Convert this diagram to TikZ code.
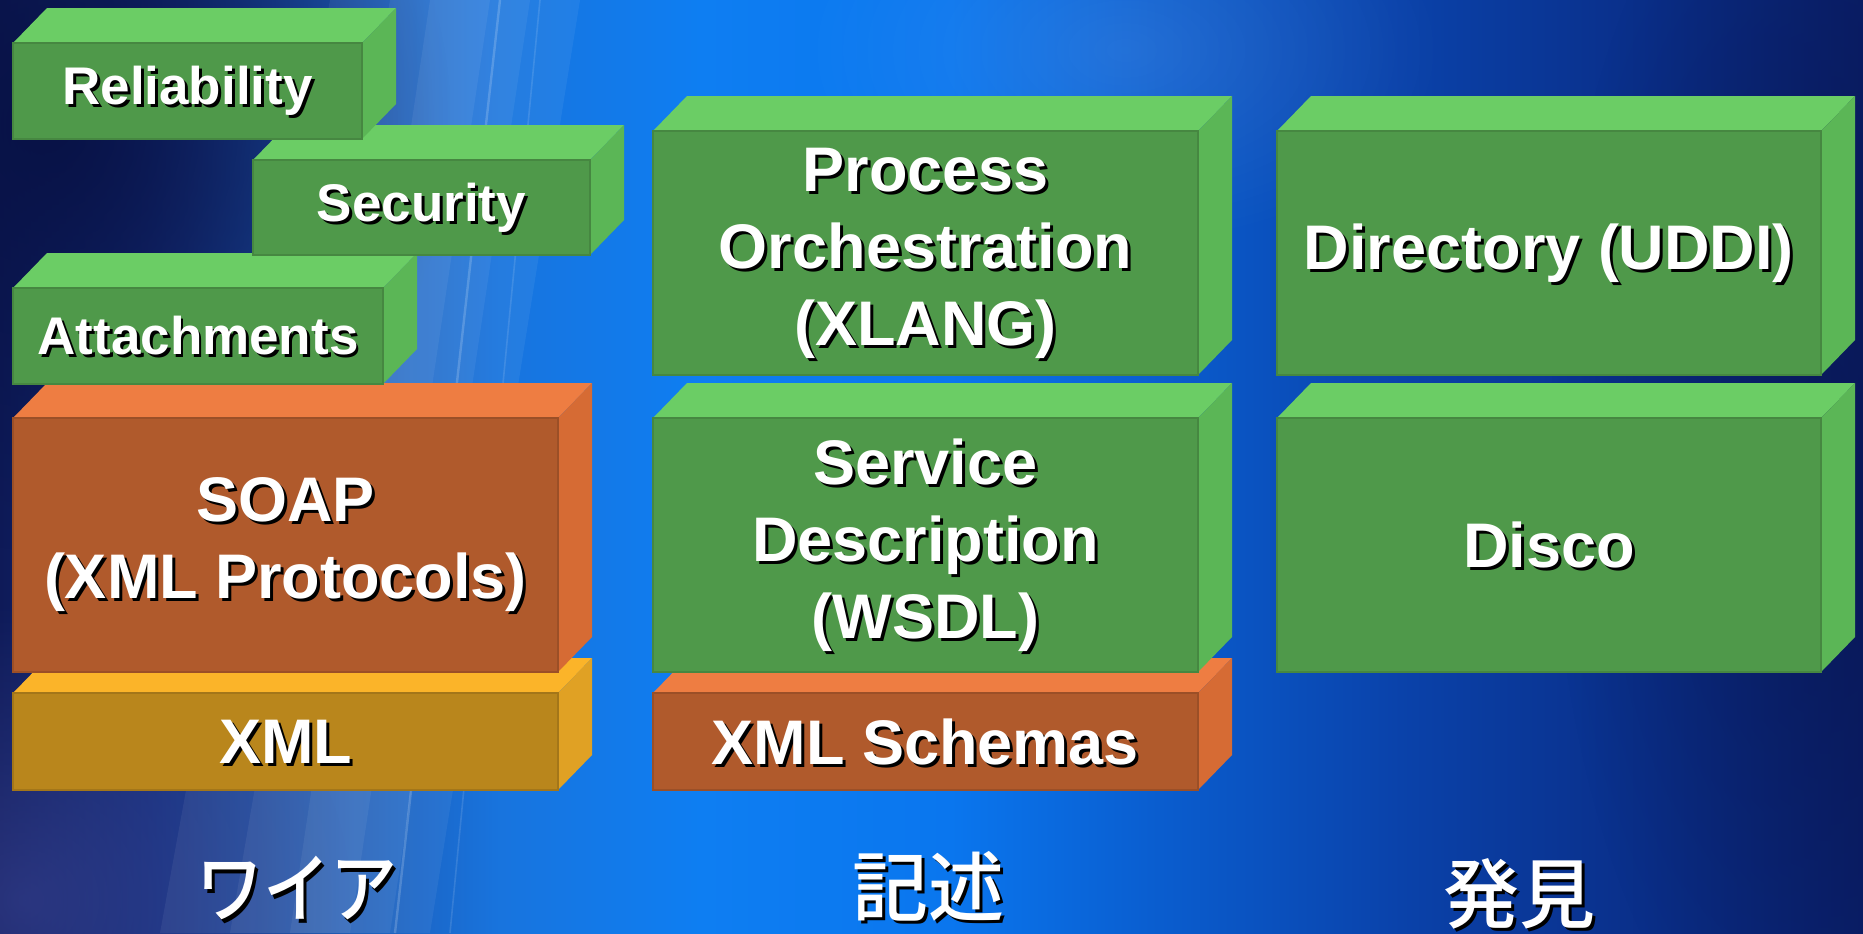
\documentclass[tikz,border=0pt]{standalone}
\usepackage{fontspec}
\setmainfont{Liberation Sans}
\newfontfamily\jpfont{Noto Sans CJK JP Medium}
\usetikzlibrary{fit,fadings}

% block palettes
\definecolor{grnFront}{RGB}{79,153,74}
\definecolor{grnTop}{RGB}{107,205,101}
\definecolor{grnSide}{RGB}{91,182,86}
\definecolor{orFront}{RGB}{176,90,44}
\definecolor{orTop}{RGB}{238,125,66}
\definecolor{orSide}{RGB}{214,107,52}
\definecolor{auFront}{RGB}{185,134,28}
\definecolor{auTop}{RGB}{251,180,41}
\definecolor{auSide}{RGB}{224,161,36}

% backdrop colours, left to right
\definecolor{bgA}{RGB}{14,26,88}
\definecolor{bgB}{RGB}{22,48,125}
\definecolor{bgC}{RGB}{30,92,182}
\definecolor{bgD}{RGB}{24,116,222}
\definecolor{bgE}{RGB}{14,126,242}
\definecolor{bgF}{RGB}{10,118,238}
\definecolor{bgG}{RGB}{10,94,208}
\definecolor{bgH}{RGB}{10,66,170}
\definecolor{bgI}{RGB}{10,46,136}
\definecolor{bgJ}{RGB}{10,30,104}
\definecolor{navy}{RGB}{8,18,70}
\definecolor{dusk}{RGB}{60,70,150}

\tikzfading[name=softspot, inner color=transparent!0, outer color=transparent!100]

\def\slabdx{34}
\def\slabdy{35}

% white text with a small black drop shadow, all in one box
\newcommand\dropshadow[1]{\rlap{\color{black}\kern1.6pt\lower1.6pt\hbox{#1}}#1}

\tikzset{
  slabtext/.style={font=\bfseries\fontsize{31.5}{38.5}\selectfont, align=center,
                   inner sep=0pt, text=white},
  smalltext/.style={slabtext, font=\bfseries\fontsize{26.5}{32}\selectfont},
  slabshadow/.style={text=black},
  jplabel/.style={font=\jpfont\fontsize{38}{38}\selectfont, inner sep=0pt,
                  text=white, transform shape},
}

% #1 name, #2 x1, #3 y1 (front top), #4 x2, #5 y2 (front bottom), #6 palette,
% #7 text style, #8 text
\newcommand\slab[8]{%
  \coordinate (#1-nw) at (#2,#3);
  \coordinate (#1-se) at (#4,#5);
  \fill[#6Top] (#2,#3) -- (#2+\slabdx,#3-\slabdy) -- (#4+\slabdx,#3-\slabdy) -- (#4,#3) -- cycle;
  \fill[#6Side] (#4,#3) -- (#4+\slabdx,#3-\slabdy) -- (#4+\slabdx,#5-\slabdy) -- (#4,#5) -- cycle;
  \node[fit=(#1-nw)(#1-se), inner sep=0pt, fill=#6Front, draw=#6Front!88!black,
        line width=0.6pt] (#1) {};
  \node[#7, slabshadow] (#1-shadow) at ([shift={(3,3)}]#1.center) {#8};
  \node[#7] (#1-label) at (#1.center) {#8};
}

\begin{document}
\begin{tikzpicture}[x=0.5pt,y=-0.5pt]
\useasboundingbox (0,0) rectangle (1863,933);

% ---- backdrop ----
\foreach \xa/\xb/\ca/\cb in {0/150/bgA/bgB, 150/350/bgB/bgC, 350/500/bgC/bgD,
    500/700/bgD/bgE, 700/950/bgE/bgF, 950/1150/bgF/bgG, 1150/1400/bgG/bgH,
    1400/1650/bgH/bgI, 1650/1863/bgI/bgJ}
  \shade[left color=\ca, right color=\cb] (\xa,0) rectangle (\xb+1,933);

% dark corner top left, dusky glow bottom left
\fill[navy, path fading=softspot] (-350,-300) rectangle (450,550);
\fill[dusk, opacity=0.6, path fading=softspot] (-300,600) rectangle (350,1200);
% soft light band with fine streaks
\fill[white, opacity=0.06] (330,0) -- (580,0) -- (430,933) -- (160,933) -- cycle;
\fill[white, opacity=0.06] (390,0) -- (530,0) -- (390,933) -- (230,933) -- cycle;
\fill[white, opacity=0.06] (430,0) -- (490,0) -- (350,933) -- (290,933) -- cycle;
\draw[white, opacity=0.18, line width=1.2pt] (500,0) -- (395,933);
\draw[white, opacity=0.12, line width=0.8pt] (540,0) -- (450,933);
% haze across the upper middle
\fill[white, opacity=0.10, path fading=softspot] (800,-150) rectangle (1450,250);
\fill[navy, opacity=0.5, path fading=softspot] (1550,-200) rectangle (2100,1100);

% ---- wire column (drawn bottom-up) ----
\slab{xml}{13}{693}{558}{790}{au}{slabtext}{XML}
\slab{soap}{13}{418}{558}{672}{or}{slabtext}{SOAP\\(XML Protocols)}
\slab{attach}{13}{288}{383}{384}{grn}{smalltext}{Attachments}
\slab{security}{253}{160}{590}{255}{grn}{smalltext}{Security}
\slab{reliab}{13}{43}{362}{139}{grn}{smalltext}{Reliability}

% ---- description column ----
\slab{schemas}{653}{693}{1198}{790}{or}{slabtext}{XML Schemas}
\slab{wsdl}{653}{418}{1198}{672}{grn}{slabtext}{Service\\Description\\(WSDL)}
\slab{xlang}{653}{131}{1198}{375}{grn}{slabtext}{Process\\Orchestration\\(XLANG)}

% ---- discovery column ----
\slab{disco}{1277}{418}{1821}{672}{grn}{slabtext}{Disco}
\slab{uddi}{1277}{131}{1821}{375}{grn}{slabtext}{Directory (UDDI)}

% ---- column captions ----
\node[jplabel, xscale=0.88] (wire) at (297,890) {\dropshadow{ワイア}};
\node[jplabel] (desc) at (928,888) {\dropshadow{記述}};
\node[jplabel] (disc) at (1519,895) {\dropshadow{発見}};
\end{tikzpicture}
\end{document}
